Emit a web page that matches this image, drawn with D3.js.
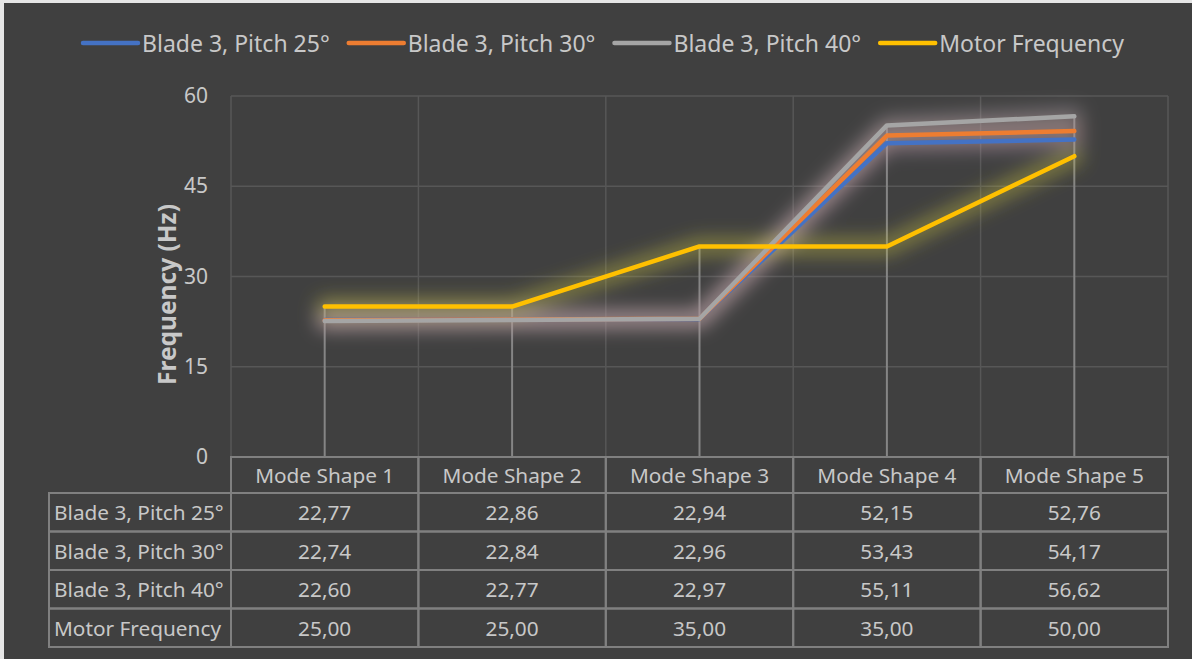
<!DOCTYPE html>
<html>
<head>
<meta charset="utf-8">
<script src="https://cdn.jsdelivr.net/npm/d3@7/dist/d3.min.js"></script>
<style>
  html, body { margin: 0; padding: 0; background: #ffffff; }
  svg { display: block; }
  text { font-family: "Noto Sans", "Open Sans", sans-serif; }
</style>
</head>
<body>
<svg id="chart" width="1192" height="659"></svg>
<script>
// ---- data ----
const categories = ["Mode Shape 1", "Mode Shape 2", "Mode Shape 3", "Mode Shape 4", "Mode Shape 5"];
const seriesNames = ["Blade 3, Pitch 25°", "Blade 3, Pitch 30°", "Blade 3, Pitch 40°", "Motor Frequency"];
const pitch25 = [22.77, 22.86, 22.94, 52.15, 52.76];
const pitch30 = [22.74, 22.84, 22.96, 53.43, 54.17];
const pitch40 = [22.60, 22.77, 22.97, 55.11, 56.62];
const motorFreq = [25.00, 25.00, 35.00, 35.00, 50.00];
const yTicks = [0, 15, 30, 45, 60];
const seriesColors = ["#4472c4", "#ed7d31", "#a5a5a5", "#ffc000"];
const glowColors = ["#a890b0", "#c09888", "#b0a0a8", "#c8c040"];

const series = [pitch25, pitch30, pitch40, motorFreq].map((vals, i) => ({
  name: seriesNames[i], values: vals, color: seriesColors[i], glow: glowColors[i]
}));

// ---- layout ----
const W = 1192, H = 659;
const plot = { left: 231, right: 1168, top: 96, bottom: 457 };
const headerH = 36, rowH = 38.5, labelColLeft = 49;
const textColor = "#c8c8c8";
const lineGrey = "#808080";
const tableFont = "20.8px";

const svg = d3.select("#chart");
const defs = svg.append("defs");
const glow = defs.append("filter").attr("id", "glow")
  .attr("x", "-20%").attr("y", "-50%").attr("width", "140%").attr("height", "200%");
glow.append("feGaussianBlur").attr("stdDeviation", 9);

// chart background with a light frame on the top/left edge
svg.append("rect").attr("x", 0).attr("y", 0).attr("width", W).attr("height", H).attr("fill", "#e6e6e6");
svg.append("rect").attr("x", 4).attr("y", 3).attr("width", W).attr("height", H)
  .attr("fill", "#404040");

// ---- scales ----
const x = d3.scaleBand().domain(categories).range([plot.left, plot.right]);
const y = d3.scaleLinear().domain([0, 60]).range([plot.bottom, plot.top]);
const cx = c => x(c) + x.bandwidth() / 2;

// ---- gridlines ----
const grid = svg.append("g");
grid.selectAll("line.h").data(yTicks.filter(t => t > 0)).join("line")
  .attr("x1", plot.left).attr("x2", plot.right)
  .attr("y1", d => y(d)).attr("y2", d => y(d))
  .attr("stroke", "#575757").attr("stroke-width", 1.5);
const vBounds = categories.map(c => x(c)).concat([plot.right]);
grid.selectAll("line.v").data(vBounds).join("line")
  .attr("x1", d => d).attr("x2", d => d)
  .attr("y1", plot.top).attr("y2", plot.bottom)
  .attr("stroke", "#575757").attr("stroke-width", 1.5);

// ---- y axis labels ----
const yAxis = d3.axisLeft(y).tickValues(yTicks).tickSize(0).tickPadding(23);
const yg = svg.append("g").attr("transform", `translate(${plot.left},0)`).call(yAxis);
yg.select(".domain").remove();
yg.selectAll("text").attr("fill", textColor).style("font-size", "21px")
  .style("font-family", '"Noto Sans", sans-serif');

svg.append("text")
  .attr("transform", `translate(166,${(plot.top + plot.bottom) / 2 + 18}) rotate(-90)`)
  .attr("text-anchor", "middle").attr("dominant-baseline", "central")
  .attr("fill", textColor).style("font-size", "24.5px").style("font-weight", "bold")
  .text("Frequency (Hz)");

// ---- drop lines (from highest series value down to axis) ----
svg.append("g").selectAll("line").data(categories).join("line")
  .attr("x1", c => cx(c)).attr("x2", c => cx(c))
  .attr("y1", (c, i) => y(d3.max(series, s => s.values[i])))
  .attr("y2", plot.bottom)
  .attr("stroke", "#858585").attr("stroke-width", 2);

// ---- lines with glow ----
const line = d3.line().x((d, i) => cx(categories[i])).y(d => y(d));
const glowG = svg.append("g").attr("filter", "url(#glow)");
series.forEach(s => {
  glowG.append("path").attr("d", line(s.values)).attr("fill", "none")
    .attr("stroke", s.glow).attr("stroke-opacity", 0.45).attr("stroke-width", 18)
    .attr("stroke-linejoin", "round").attr("stroke-linecap", "round");
});
const lineG = svg.append("g");
series.forEach(s => {
  lineG.append("path").attr("d", line(s.values)).attr("fill", "none")
    .attr("stroke", s.color).attr("stroke-width", 4.5)
    .attr("stroke-linejoin", "round").attr("stroke-linecap", "round");
});

// ---- legend ----
const legend = svg.append("g");
const symW = 55, symGap = 4, itemGap = 19, legendY = 43;
let lx = 83;
series.forEach(s => {
  const g = legend.append("g").attr("transform", `translate(${lx},0)`);
  g.append("line").attr("x1", 0).attr("x2", symW).attr("y1", legendY).attr("y2", legendY)
    .attr("stroke", s.color).attr("stroke-width", 4.5).attr("stroke-linecap", "round");
  const t = g.append("text").attr("x", symW + symGap).attr("y", legendY)
    .attr("dominant-baseline", "central").attr("fill", textColor)
    .style("font-size", "23px").text(s.name);
  lx += symW + symGap + t.node().getComputedTextLength() + itemGap;
});

// ---- data table ----
const fmt = d3.formatLocale({ decimal: ",", thousands: ".", grouping: [3], currency: ["", ""] }).format(".2f");
const table = svg.append("g");
const tTop = plot.bottom;

function cell(x0, y0, w, h) {
  table.append("rect").attr("x", x0).attr("y", y0).attr("width", w).attr("height", h)
    .attr("fill", "none").attr("stroke", lineGrey).attr("stroke-width", 2);
}

// header cells
categories.forEach(c => {
  cell(x(c), tTop, x.bandwidth(), headerH);
  table.append("text").attr("x", cx(c)).attr("y", tTop + headerH / 2)
    .attr("text-anchor", "middle").attr("dominant-baseline", "central")
    .attr("fill", textColor).style("font-size", tableFont).text(c);
});
// body rows
series.forEach((s, r) => {
  const ry = tTop + headerH + r * rowH;
  cell(labelColLeft, ry, plot.left - labelColLeft, rowH);
  table.append("text").attr("x", labelColLeft + 5).attr("y", ry + rowH / 2)
    .attr("dominant-baseline", "central").attr("fill", textColor)
    .style("font-size", tableFont).text(s.name);
  categories.forEach((c, i) => {
    cell(x(c), ry, x.bandwidth(), rowH);
    table.append("text").attr("x", cx(c)).attr("y", ry + rowH / 2)
      .attr("text-anchor", "middle").attr("dominant-baseline", "central")
      .attr("fill", textColor).style("font-size", tableFont).text(fmt(s.values[i]));
  });
});
</script>
</body>
</html>
